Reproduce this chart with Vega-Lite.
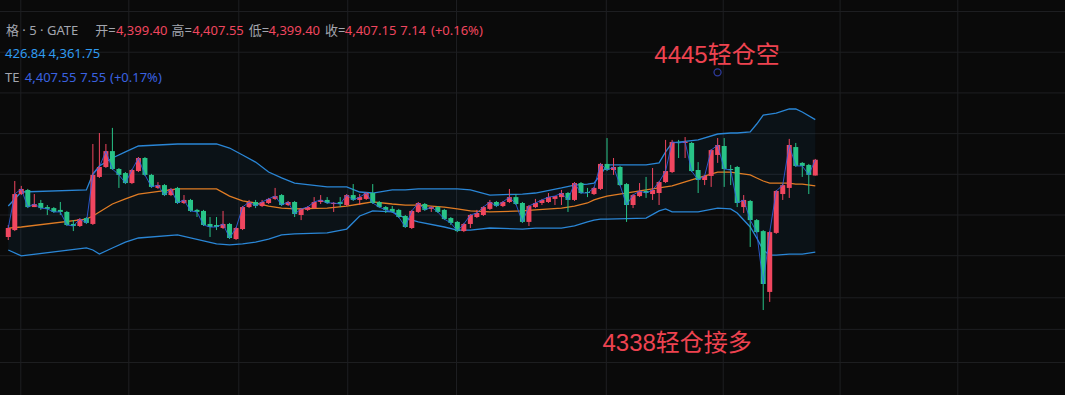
{
  "$schema": "https://vega.github.io/schema/vega-lite/v6.json",
  "width": 1065,
  "height": 395,
  "autosize": {"type": "none"},
  "padding": 0,
  "background": "#0a0a0a",
  "config": {"view": {"stroke": null}},
  "datasets": {
    "candles": [
      {"i":1,"o":4369.2,"h":4375.1,"l":4367.7,"c":4373.6},
      {"i":2,"o":4372.6,"h":4396.7,"l":4372.1,"c":4390.3},
      {"i":3,"o":4390.3,"h":4394.3,"l":4389.8,"c":4392.8},
      {"i":4,"o":4392.3,"h":4392.8,"l":4383.4,"c":4383.9},
      {"i":5,"o":4383.9,"h":4390.3,"l":4383.9,"c":4385.4},
      {"i":6,"o":4385.9,"h":4387.4,"l":4382.5,"c":4383.4},
      {"i":7,"o":4383.9,"h":4384.9,"l":4380.0,"c":4383.0},
      {"i":8,"o":4383.4,"h":4383.9,"l":4381.0,"c":4381.5},
      {"i":9,"o":4382.5,"h":4386.4,"l":4380.0,"c":4381.5},
      {"i":10,"o":4381.5,"h":4382.0,"l":4374.6,"c":4375.1},
      {"i":11,"o":4375.6,"h":4377.5,"l":4372.1,"c":4374.6},
      {"i":12,"o":4374.6,"h":4378.5,"l":4374.1,"c":4378.0},
      {"i":13,"o":4378.5,"h":4379.0,"l":4375.6,"c":4376.1},
      {"i":14,"o":4375.6,"h":4414.9,"l":4375.1,"c":4399.7},
      {"i":15,"o":4398.7,"h":4420.3,"l":4398.2,"c":4403.6},
      {"i":16,"o":4403.6,"h":4414.9,"l":4403.1,"c":4411.4},
      {"i":17,"o":4411.4,"h":4422.8,"l":4402.1,"c":4402.6},
      {"i":18,"o":4402.6,"h":4403.1,"l":4393.3,"c":4399.7},
      {"i":19,"o":4400.6,"h":4401.1,"l":4395.2,"c":4395.7},
      {"i":20,"o":4395.7,"h":4402.6,"l":4395.2,"c":4402.1},
      {"i":21,"o":4401.6,"h":4408.5,"l":4401.1,"c":4408.0},
      {"i":22,"o":4408.0,"h":4408.5,"l":4399.2,"c":4399.7},
      {"i":23,"o":4399.7,"h":4400.2,"l":4393.3,"c":4393.8},
      {"i":24,"o":4393.3,"h":4396.2,"l":4392.8,"c":4394.7},
      {"i":25,"o":4394.7,"h":4395.2,"l":4389.3,"c":4389.8},
      {"i":26,"o":4389.8,"h":4393.3,"l":4389.3,"c":4392.8},
      {"i":27,"o":4393.3,"h":4393.8,"l":4385.4,"c":4385.9},
      {"i":28,"o":4385.9,"h":4389.8,"l":4385.4,"c":4387.4},
      {"i":29,"o":4387.4,"h":4387.9,"l":4381.5,"c":4382.0},
      {"i":30,"o":4382.5,"h":4383.0,"l":4379.0,"c":4381.5},
      {"i":31,"o":4382.0,"h":4382.5,"l":4374.6,"c":4375.1},
      {"i":32,"o":4375.6,"h":4379.0,"l":4369.2,"c":4374.1},
      {"i":33,"o":4375.1,"h":4379.0,"l":4372.6,"c":4374.1},
      {"i":34,"o":4373.6,"h":4382.0,"l":4373.1,"c":4375.6},
      {"i":35,"o":4375.6,"h":4376.1,"l":4368.2,"c":4368.7},
      {"i":36,"o":4368.2,"h":4374.1,"l":4367.7,"c":4373.6},
      {"i":37,"o":4373.1,"h":4384.4,"l":4372.6,"c":4383.9},
      {"i":38,"o":4383.9,"h":4387.4,"l":4383.4,"c":4386.4},
      {"i":39,"o":4386.4,"h":4387.4,"l":4383.4,"c":4384.4},
      {"i":40,"o":4384.4,"h":4387.4,"l":4383.9,"c":4386.4},
      {"i":41,"o":4385.9,"h":4388.4,"l":4385.4,"c":4387.9},
      {"i":42,"o":4387.9,"h":4393.3,"l":4387.4,"c":4389.3},
      {"i":43,"o":4389.8,"h":4390.3,"l":4384.4,"c":4384.9},
      {"i":44,"o":4384.9,"h":4386.9,"l":4384.4,"c":4386.4},
      {"i":45,"o":4386.4,"h":4386.9,"l":4379.0,"c":4380.5},
      {"i":46,"o":4380.0,"h":4383.4,"l":4377.5,"c":4383.0},
      {"i":47,"o":4382.5,"h":4384.4,"l":4382.0,"c":4383.9},
      {"i":48,"o":4383.4,"h":4388.8,"l":4383.0,"c":4386.4},
      {"i":49,"o":4386.4,"h":4389.8,"l":4385.4,"c":4387.4},
      {"i":50,"o":4387.4,"h":4388.8,"l":4385.4,"c":4385.9},
      {"i":51,"o":4385.4,"h":4386.4,"l":4381.5,"c":4385.9},
      {"i":52,"o":4386.4,"h":4388.8,"l":4383.9,"c":4385.4},
      {"i":53,"o":4384.9,"h":4390.3,"l":4384.4,"c":4389.8},
      {"i":54,"o":4389.8,"h":4395.2,"l":4386.9,"c":4387.4},
      {"i":55,"o":4387.4,"h":4390.3,"l":4384.9,"c":4388.8},
      {"i":56,"o":4387.9,"h":4391.3,"l":4387.4,"c":4390.8},
      {"i":57,"o":4390.8,"h":4395.2,"l":4385.4,"c":4385.9},
      {"i":58,"o":4386.4,"h":4386.9,"l":4383.4,"c":4383.9},
      {"i":59,"o":4383.9,"h":4384.4,"l":4381.0,"c":4382.5},
      {"i":60,"o":4383.0,"h":4384.4,"l":4381.0,"c":4381.5},
      {"i":61,"o":4382.5,"h":4383.0,"l":4378.5,"c":4379.0},
      {"i":62,"o":4379.5,"h":4380.0,"l":4373.6,"c":4374.1},
      {"i":63,"o":4373.6,"h":4382.5,"l":4373.1,"c":4382.0},
      {"i":64,"o":4381.5,"h":4386.4,"l":4381.0,"c":4385.9},
      {"i":65,"o":4385.4,"h":4385.9,"l":4382.0,"c":4382.5},
      {"i":66,"o":4383.0,"h":4384.4,"l":4381.5,"c":4383.9},
      {"i":67,"o":4383.9,"h":4384.4,"l":4381.0,"c":4381.5},
      {"i":68,"o":4382.5,"h":4383.0,"l":4377.5,"c":4378.0},
      {"i":69,"o":4378.5,"h":4379.0,"l":4375.1,"c":4376.1},
      {"i":70,"o":4376.6,"h":4377.0,"l":4371.6,"c":4372.1},
      {"i":71,"o":4372.1,"h":4376.1,"l":4371.6,"c":4375.6},
      {"i":72,"o":4375.6,"h":4380.5,"l":4373.6,"c":4380.0},
      {"i":73,"o":4379.0,"h":4382.5,"l":4378.5,"c":4381.0},
      {"i":74,"o":4380.0,"h":4384.4,"l":4379.5,"c":4383.9},
      {"i":75,"o":4383.0,"h":4387.4,"l":4382.5,"c":4386.4},
      {"i":76,"o":4386.4,"h":4386.9,"l":4383.9,"c":4384.4},
      {"i":77,"o":4384.4,"h":4386.9,"l":4383.9,"c":4386.4},
      {"i":78,"o":4386.4,"h":4392.8,"l":4385.9,"c":4388.8},
      {"i":79,"o":4388.8,"h":4390.3,"l":4384.9,"c":4385.4},
      {"i":80,"o":4385.9,"h":4386.4,"l":4376.1,"c":4376.6},
      {"i":81,"o":4376.6,"h":4384.9,"l":4374.6,"c":4384.4},
      {"i":82,"o":4383.9,"h":4387.9,"l":4383.4,"c":4385.9},
      {"i":83,"o":4385.9,"h":4387.9,"l":4384.9,"c":4387.4},
      {"i":84,"o":4386.4,"h":4390.8,"l":4385.9,"c":4388.8},
      {"i":85,"o":4387.9,"h":4389.3,"l":4384.9,"c":4389.3},
      {"i":86,"o":4388.8,"h":4392.3,"l":4384.9,"c":4390.8},
      {"i":87,"o":4390.8,"h":4391.3,"l":4381.5,"c":4387.4},
      {"i":88,"o":4387.4,"h":4396.2,"l":4386.9,"c":4395.7},
      {"i":89,"o":4395.7,"h":4396.2,"l":4390.3,"c":4390.8},
      {"i":90,"o":4391.3,"h":4393.3,"l":4388.8,"c":4390.8},
      {"i":91,"o":4390.3,"h":4393.8,"l":4389.8,"c":4393.3},
      {"i":92,"o":4392.8,"h":4405.6,"l":4392.3,"c":4405.1},
      {"i":93,"o":4405.1,"h":4417.8,"l":4401.6,"c":4402.1},
      {"i":94,"o":4402.1,"h":4408.0,"l":4399.7,"c":4403.6},
      {"i":95,"o":4403.6,"h":4404.1,"l":4394.3,"c":4394.7},
      {"i":96,"o":4395.2,"h":4395.7,"l":4376.6,"c":4384.9},
      {"i":97,"o":4384.9,"h":4390.3,"l":4383.4,"c":4389.8},
      {"i":98,"o":4389.3,"h":4395.7,"l":4388.8,"c":4391.8},
      {"i":99,"o":4391.8,"h":4398.7,"l":4388.4,"c":4390.8},
      {"i":100,"o":4390.3,"h":4403.1,"l":4387.4,"c":4392.3},
      {"i":101,"o":4390.8,"h":4396.7,"l":4384.9,"c":4396.2},
      {"i":102,"o":4396.2,"h":4416.9,"l":4395.7,"c":4401.6},
      {"i":103,"o":4401.1,"h":4416.9,"l":4400.6,"c":4415.9},
      {"i":104,"o":4415.9,"h":4416.9,"l":4408.0,"c":4415.4},
      {"i":105,"o":4415.4,"h":4418.3,"l":4408.0,"c":4415.9},
      {"i":106,"o":4415.4,"h":4415.9,"l":4401.1,"c":4401.6},
      {"i":107,"o":4402.1,"h":4406.0,"l":4390.8,"c":4397.2},
      {"i":108,"o":4397.2,"h":4399.7,"l":4394.7,"c":4399.2},
      {"i":109,"o":4399.2,"h":4412.4,"l":4393.8,"c":4411.9},
      {"i":110,"o":4409.5,"h":4417.8,"l":4405.6,"c":4414.4},
      {"i":111,"o":4413.9,"h":4417.8,"l":4393.8,"c":4402.6},
      {"i":112,"o":4402.6,"h":4404.6,"l":4394.7,"c":4402.1},
      {"i":113,"o":4403.6,"h":4404.1,"l":4383.9,"c":4385.9},
      {"i":114,"o":4383.9,"h":4389.8,"l":4381.0,"c":4387.4},
      {"i":115,"o":4386.9,"h":4387.4,"l":4364.3,"c":4377.5},
      {"i":116,"o":4377.5,"h":4378.0,"l":4371.2,"c":4371.6},
      {"i":117,"o":4372.1,"h":4372.6,"l":4333.3,"c":4346.1},
      {"i":118,"o":4342.2,"h":4372.1,"l":4337.3,"c":4371.6},
      {"i":119,"o":4371.2,"h":4392.3,"l":4370.7,"c":4391.8},
      {"i":120,"o":4390.3,"h":4395.2,"l":4387.4,"c":4394.7},
      {"i":121,"o":4393.3,"h":4417.4,"l":4388.4,"c":4414.4},
      {"i":122,"o":4413.4,"h":4415.4,"l":4403.6,"c":4404.1},
      {"i":123,"o":4405.6,"h":4406.0,"l":4398.7,"c":4404.1},
      {"i":124,"o":4404.6,"h":4405.1,"l":4390.3,"c":4399.7},
      {"i":125,"o":4399.4,"h":4407.55,"l":4399.4,"c":4407.15}
    ],
    "bands": [
      {"i":1,"up":4384.4,"mid":4373.6,"lo":4362.8},
      {"i":3,"up":4391.3,"mid":4374.1,"lo":4359.9},
      {"i":13,"up":4392.3,"mid":4378.0,"lo":4363.8},
      {"i":14,"up":4400.2,"mid":4379.5,"lo":4362.8},
      {"i":15,"up":4404.1,"mid":4381.5,"lo":4360.8},
      {"i":17,"up":4408.0,"mid":4385.4,"lo":4363.8},
      {"i":19,"up":4411.0,"mid":4387.9,"lo":4366.7},
      {"i":21,"up":4413.9,"mid":4390.3,"lo":4368.7},
      {"i":27,"up":4414.9,"mid":4392.8,"lo":4370.2},
      {"i":33,"up":4414.9,"mid":4392.8,"lo":4365.8},
      {"i":35,"up":4412.9,"mid":4389.3,"lo":4365.3},
      {"i":37,"up":4409.5,"mid":4386.9,"lo":4365.8},
      {"i":39,"up":4406.0,"mid":4385.9,"lo":4366.7},
      {"i":41,"up":4401.1,"mid":4384.4,"lo":4368.2},
      {"i":43,"up":4398.2,"mid":4383.4,"lo":4370.2},
      {"i":45,"up":4395.7,"mid":4383.0,"lo":4370.7},
      {"i":50,"up":4393.8,"mid":4383.4,"lo":4371.2},
      {"i":53,"up":4393.8,"mid":4384.4,"lo":4373.1},
      {"i":55,"up":4391.3,"mid":4385.4,"lo":4379.5},
      {"i":57,"up":4390.8,"mid":4386.4,"lo":4382.0},
      {"i":60,"up":4392.3,"mid":4385.4,"lo":4381.5},
      {"i":62,"up":4392.3,"mid":4384.9,"lo":4378.5},
      {"i":64,"up":4392.8,"mid":4384.9,"lo":4376.6},
      {"i":68,"up":4392.8,"mid":4383.9,"lo":4374.1},
      {"i":70,"up":4392.8,"mid":4383.0,"lo":4372.6},
      {"i":72,"up":4392.3,"mid":4382.0,"lo":4372.6},
      {"i":75,"up":4389.8,"mid":4381.5,"lo":4373.6},
      {"i":80,"up":4390.3,"mid":4382.0,"lo":4373.1},
      {"i":82,"up":4390.8,"mid":4382.5,"lo":4373.6},
      {"i":86,"up":4393.3,"mid":4383.4,"lo":4373.6},
      {"i":88,"up":4394.7,"mid":4384.4,"lo":4374.6},
      {"i":90,"up":4395.2,"mid":4385.9,"lo":4376.6},
      {"i":91,"up":4395.7,"mid":4387.4,"lo":4377.5},
      {"i":92,"up":4399.7,"mid":4388.4,"lo":4378.0},
      {"i":93,"up":4404.6,"mid":4389.3,"lo":4378.0},
      {"i":99,"up":4404.6,"mid":4392.3,"lo":4378.5},
      {"i":101,"up":4405.6,"mid":4393.3,"lo":4382.0},
      {"i":102,"up":4411.0,"mid":4393.8,"lo":4383.0},
      {"i":103,"up":4415.4,"mid":4394.3,"lo":4381.5},
      {"i":107,"up":4416.9,"mid":4398.2,"lo":4381.5},
      {"i":110,"up":4419.8,"mid":4401.1,"lo":4383.4},
      {"i":112,"up":4420.3,"mid":4401.1,"lo":4383.0},
      {"i":113,"up":4420.3,"mid":4400.6,"lo":4381.0},
      {"i":115,"up":4420.8,"mid":4399.7,"lo":4374.1},
      {"i":116,"up":4424.7,"mid":4398.2,"lo":4368.7},
      {"i":117,"up":4429.1,"mid":4396.7,"lo":4362.8},
      {"i":118,"up":4429.6,"mid":4395.7,"lo":4360.3},
      {"i":119,"up":4430.1,"mid":4395.7,"lo":4360.3},
      {"i":121,"up":4432.1,"mid":4395.7,"lo":4360.8},
      {"i":122,"up":4432.1,"mid":4395.2,"lo":4360.8},
      {"i":123,"up":4430.6,"mid":4395.2,"lo":4360.8},
      {"i":125,"up":4426.84,"mid":4394.3,"lo":4361.75}
    ],
    "vgrid": [{"g":2.93},{"g":19.52},{"g":36.42},{"g":53.16},{"g":69.87},{"g":92.89},{"g":110.85},{"g":128.81},{"g":146.9}],
    "hgrid": [{"g":4480},{"g":4460},{"g":4440},{"g":4420},{"g":4400},{"g":4380},{"g":4360},{"g":4339.3},{"g":4323.8},{"g":4307.5}],
    "labels": [
      {"i":0.65,"p":4470.4,"t":"格 · 5 · GATE","role":"muted"},
      {"i":14.35,"p":4470.4,"t":"开=","role":"muted"},
      {"i":17.54,"p":4470.4,"t":"4,399.40","role":"up"},
      {"i":26.07,"p":4470.4,"t":"高=","role":"muted"},
      {"i":29.26,"p":4470.4,"t":"4,407.55","role":"up"},
      {"i":37.94,"p":4470.4,"t":"低=","role":"muted"},
      {"i":40.98,"p":4470.4,"t":"4,399.40","role":"up"},
      {"i":49.66,"p":4470.4,"t":"收=","role":"muted"},
      {"i":52.7,"p":4470.4,"t":"4,407.15","role":"up"},
      {"i":61.23,"p":4470.4,"t":"7.14","role":"up"},
      {"i":65.95,"p":4470.4,"t":"(+0.16%)","role":"up"},
      {"i":0.5,"p":4459.1,"t":"426.84","role":"boll"},
      {"i":7.19,"p":4459.1,"t":"4,361.75","role":"boll"},
      {"i":0.5,"p":4447.3,"t":"TE","role":"muted"},
      {"i":3.54,"p":4447.3,"t":"4,407.55","role":"cmp"},
      {"i":12.07,"p":4447.3,"t":"7.55","role":"cmp"},
      {"i":16.63,"p":4447.3,"t":"(+0.17%)","role":"cmp"}
    ],
    "notes": [
      {"i":109.9,"p":4457.9,"t":"4445轻仓空"},
      {"i":103.77,"p":4316.6,"t":"4338轻仓接多"}
    ],
    "marker": [{"i":109.98,"p":4450.1}]
  },
  "layer": [
    {
      "data": {"name": "hgrid"},
      "mark": {"type": "rule", "color": "#1e1f22", "strokeWidth": 1},
      "encoding": {
        "y": {"field": "g", "type": "quantitative", "scale": {"domain": [4291.55, 4485.65], "nice": false, "zero": false}, "axis": null}
      }
    },
    {
      "data": {"name": "vgrid"},
      "mark": {"type": "rule", "color": "#1e1f22", "strokeWidth": 1},
      "encoding": {
        "x": {"field": "g", "type": "quantitative", "scale": {"domain": [0.498, 162.6], "nice": false, "zero": false}, "axis": null}
      }
    },
    {
      "data": {"name": "bands"},
      "mark": {"type": "area", "color": "#2196f3", "opacity": 0.06},
      "encoding": {
        "x": {"field": "i", "type": "quantitative", "axis": null},
        "y": {"field": "lo", "type": "quantitative", "axis": null},
        "y2": {"field": "up"}
      }
    },
    {
      "data": {"name": "bands"},
      "mark": {"type": "line", "color": "#2a86d6", "strokeWidth": 1.3},
      "encoding": {
        "x": {"field": "i", "type": "quantitative", "axis": null},
        "y": {"field": "up", "type": "quantitative", "axis": null}
      }
    },
    {
      "data": {"name": "bands"},
      "mark": {"type": "line", "color": "#2a86d6", "strokeWidth": 1.3},
      "encoding": {
        "x": {"field": "i", "type": "quantitative", "axis": null},
        "y": {"field": "lo", "type": "quantitative", "axis": null}
      }
    },
    {
      "data": {"name": "bands"},
      "mark": {"type": "line", "color": "#e07c24", "strokeWidth": 1.3},
      "encoding": {
        "x": {"field": "i", "type": "quantitative", "axis": null},
        "y": {"field": "mid", "type": "quantitative", "axis": null}
      }
    },
    {
      "data": {"name": "candles"},
      "mark": {"type": "rule", "strokeWidth": 1},
      "encoding": {
        "x": {"field": "i", "type": "quantitative", "axis": null},
        "y": {"field": "l", "type": "quantitative", "axis": null},
        "y2": {"field": "h"},
        "color": {"condition": {"test": "datum.c >= datum.o", "value": "#f0465f"}, "value": "#28c387"}
      }
    },
    {
      "data": {"name": "candles"},
      "mark": {"type": "bar", "size": 5},
      "encoding": {
        "x": {"field": "i", "type": "quantitative", "axis": null},
        "y": {"field": "o", "type": "quantitative", "axis": null},
        "y2": {"field": "c"},
        "color": {"condition": {"test": "datum.c >= datum.o", "value": "#f0465f"}, "value": "#28c387"}
      }
    },
    {
      "data": {"name": "candles"},
      "mark": {"type": "line", "color": "#2f62e6", "strokeWidth": 1, "opacity": 0.85},
      "encoding": {
        "x": {"field": "i", "type": "quantitative", "axis": null},
        "y": {"field": "c", "type": "quantitative", "axis": null}
      }
    },
    {
      "mark": {"type": "rule", "color": "#f0465f", "strokeWidth": 1, "strokeDash": [1, 3]},
      "encoding": {
        "y": {"datum": 4407.15, "type": "quantitative", "axis": null}
      }
    },
    {
      "data": {"name": "labels"},
      "mark": {"type": "text", "align": "left", "baseline": "middle", "fontSize": 13, "font": "Noto Sans, Noto Sans CJK SC"},
      "encoding": {
        "x": {"field": "i", "type": "quantitative", "axis": null},
        "y": {"field": "p", "type": "quantitative", "axis": null},
        "text": {"field": "t"},
        "color": {"field": "role", "type": "nominal", "legend": null,
          "scale": {"domain": ["muted", "up", "boll", "cmp"], "range": ["#a3a6af", "#f0465f", "#2f9bf0", "#3a62e0"]}}
      }
    },
    {
      "data": {"name": "notes"},
      "mark": {"type": "text", "align": "center", "baseline": "middle", "fontSize": 24, "font": "Liberation Sans, Noto Sans CJK SC", "color": "#ee4350"},
      "encoding": {
        "x": {"field": "i", "type": "quantitative", "axis": null},
        "y": {"field": "p", "type": "quantitative", "axis": null},
        "text": {"field": "t"}
      }
    },
    {
      "data": {"name": "marker"},
      "mark": {"type": "point", "shape": "circle", "size": 50, "filled": false, "stroke": "#3d4fd9", "strokeWidth": 1.3},
      "encoding": {
        "x": {"field": "i", "type": "quantitative", "axis": null},
        "y": {"field": "p", "type": "quantitative", "axis": null}
      }
    }
  ]
}
